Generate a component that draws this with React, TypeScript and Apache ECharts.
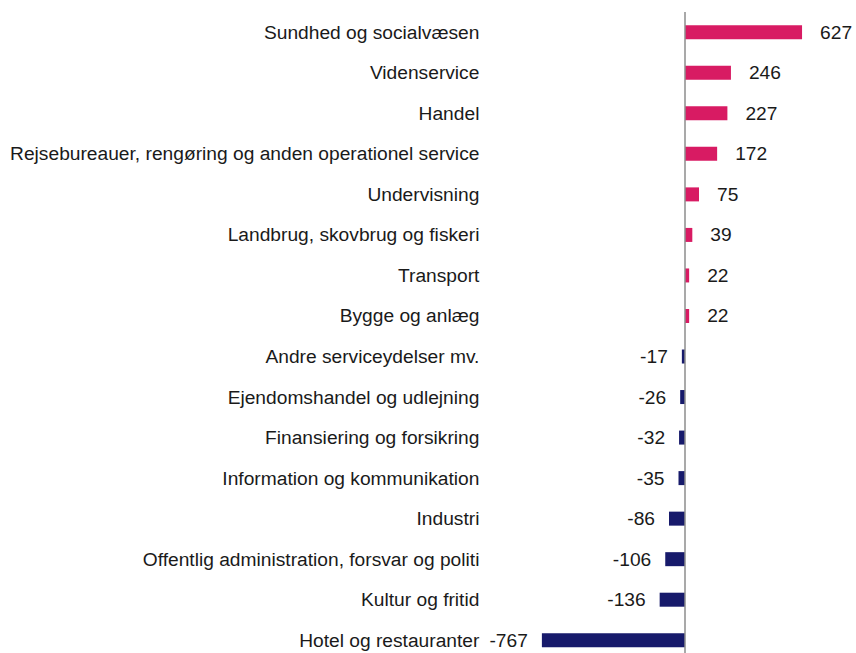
import React, { useEffect, useRef } from "react";
import * as echarts from "echarts";

const categories = [
  "Sundhed og socialvæsen",
  "Videnservice",
  "Handel",
  "Rejsebureauer, rengøring og anden operationel service",
  "Undervisning",
  "Landbrug, skovbrug og fiskeri",
  "Transport",
  "Bygge og anlæg",
  "Andre serviceydelser mv.",
  "Ejendomshandel og udlejning",
  "Finansiering og forsikring",
  "Information og kommunikation",
  "Industri",
  "Offentlig administration, forsvar og politi",
  "Kultur og fritid",
  "Hotel og restauranter",
];

const values = [627, 246, 227, 172, 75, 39, 22, 22, -17, -26, -32, -35, -86, -106, -136, -767];

const POS_COLOR = "#D81B63";
const NEG_COLOR = "#171A6B";

export default function App() {
  const ref = useRef<HTMLDivElement>(null);
  useEffect(() => {
    if (!ref.current) return;
    const chart = echarts.init(ref.current, undefined, { renderer: "svg" });
    const font = "'Liberation Sans', Arial, sans-serif";
    chart.setOption({
      animation: false,
      grid: {
        left: 498.4,
        width: 354.6,
        top: 12,
        height: 648.5,
        containLabel: false,
        outerBoundsMode: "none",
      },
      xAxis: {
        type: "value",
        min: -1000,
        max: 900,
        show: false,
        splitLine: { show: false },
      },
      yAxis: {
        type: "category",
        data: categories,
        inverse: true,
        axisLine: { show: false },
        axisTick: { show: false },
        axisLabel: { margin: 19, fontSize: 19.2, color: "#1a1a1a", fontFamily: font },
      },
      series: [
        {
          type: "bar",
          barWidth: 14,
          data: values.map((v) => ({
            value: v,
            itemStyle: { color: v >= 0 ? POS_COLOR : NEG_COLOR },
            label: {
              show: true,
              position: v >= 0 ? "right" : "left",
              distance: v >= 0 ? 18 : 14,
              fontSize: 19.2,
              color: "#1a1a1a",
              fontFamily: font,
            },
          })),
          markLine: {
            silent: true,
            symbol: "none",
            label: { show: false },
            lineStyle: { color: "#8c8c8c", width: 1.5, type: "solid" },
            data: [{ xAxis: 0 }],
          },
        },
      ],
    });
    return () => chart.dispose();
  }, []);
  return (
    <div
      ref={ref}
      style={{ position: "fixed", left: 0, top: 0, width: 856, height: 653, background: "#fff" }}
    />
  );
}
